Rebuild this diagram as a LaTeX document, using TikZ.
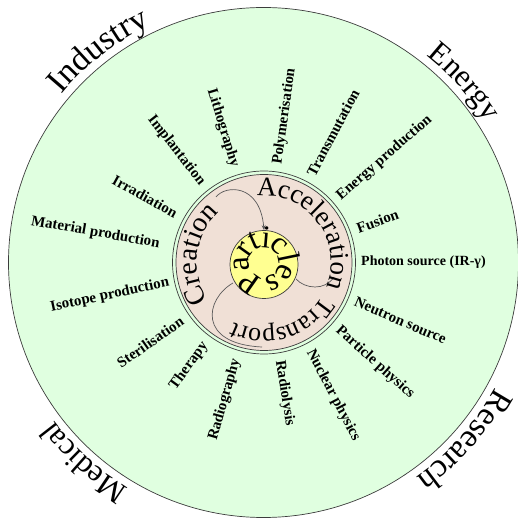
\documentclass[tikz,border=0pt]{standalone}
\usepackage{fontspec}
\setmainfont{Liberation Serif}
\usetikzlibrary{decorations.text,arrows.meta}
\definecolor{outergreen}{RGB}{224,255,224}
\definecolor{ringbeige}{RGB}{240,224,214}
\definecolor{coreyellow}{RGB}{255,255,145}
\definecolor{edgegray}{RGB}{60,60,60}
\definecolor{curvegray}{RGB}{90,90,90}
\tikzset{
  lab/.style={font=\bfseries\fontsize{15}{15}\selectfont, inner sep=0pt},
  ring/.style={circle, draw=edgegray, inner sep=0pt, line width=0.7pt},
  flow/.style={draw=curvegray, line width=0.7pt},
}
\newcommand{\rlab}[4][99]{\node[lab, anchor=west, rotate=#2] (#4) at ([shift={(#2:#1)}]C) {#3};}
\newcommand{\llab}[4][100]{\node[lab, anchor=east, rotate=#2+180] (#4) at ([shift={(#2:#1)}]C) {#3};}
\newcommand{\arctext}[7][0pt]{\path[decorate, decoration={text along path, raise=#1, text align=#6, text={|\fontsize{#7}{#7}\selectfont|#5}}] ([shift={(#2:#4)}]C) arc[start angle=#2, end angle=#3, radius=#4];}
\begin{document}
\begin{tikzpicture}[x=1pt,y=1pt]
\useasboundingbox (0,0) rectangle (517,519);
\coordinate (C) at (264,256.5);
\node[ring, fill=outergreen, minimum size=510pt] (outer) at (263.5,256.5) {};
\node[ring, minimum size=183pt] (ringout) at (C) {};
\node[ring, fill=ringbeige, minimum size=176pt] (ringin) at (C) {};
\node[ring, fill=coreyellow, minimum size=68pt] (core) at (264,254.5) {};
% flow curves
\coordinate (a1) at (216,322);
\coordinate (a2) at (296,240);
\coordinate (a3) at (334,242);
\coordinate (a4) at (233,236);
\coordinate (a5) at (262,172);
\draw[flow, -{Stealth[length=5pt,width=4pt]}] (a1) .. controls (225,334) and (260,336) .. (core.north);
\draw[flow] (a2) .. controls (305,230) and (325,228) .. (a3);
\draw[flow] (a4) .. controls (205,220) and (197,175) .. (a5);
% big labels
\arctext{161}{95}{263}{Industry}{center}{34}
\arctext{71.5}{12.5}{263}{Energy}{center}{31}
\arctext{-10}{-73}{263}{Research}{center}{33}
\arctext{259}{197}{263}{Medical}{center}{31}
% ring labels
\arctext{96}{-60}{67}{Acceleration}{left}{27}
\arctext{-30}{-170}{67}{Transport}{left}{26}
\arctext{214}{100}{67}{Creation}{left}{28}
\arctext[-3pt]{258}{-82}{18}{Particles}{center}{32}
% application labels
\node[lab, font=\bfseries\fontsize{14}{14}\selectfont, anchor=west] (l1) at ([shift={(0:97)}]C) {Photon source (IR-γ)};
\rlab{20}{Fusion}{l2}
\rlab{41}{Energy production}{l3}
\rlab{62}{Transmutation}{l4}
\rlab{82}{Polymerisation}{l5}
\llab{107}{Lithography}{l6}
\llab{128}{Implantation}{l7}
\llab{151}{Irradiation}{l8}
\llab[106]{170}{Material production}{l9}
\llab[97]{192}{Isotope production}{l10}
\llab{215}{Sterilisation}{l11}
\llab{234}{Therapy}{l12}
\llab{254}{Radiography}{l13}
\rlab{-81}{Radiolysis}{l14}
\rlab{-62.5}{Nuclear physics}{l15}
\rlab{-42}{Particle physics}{l16}
\rlab{-23}{Neutron source}{l17}
\end{tikzpicture}
\end{document}
